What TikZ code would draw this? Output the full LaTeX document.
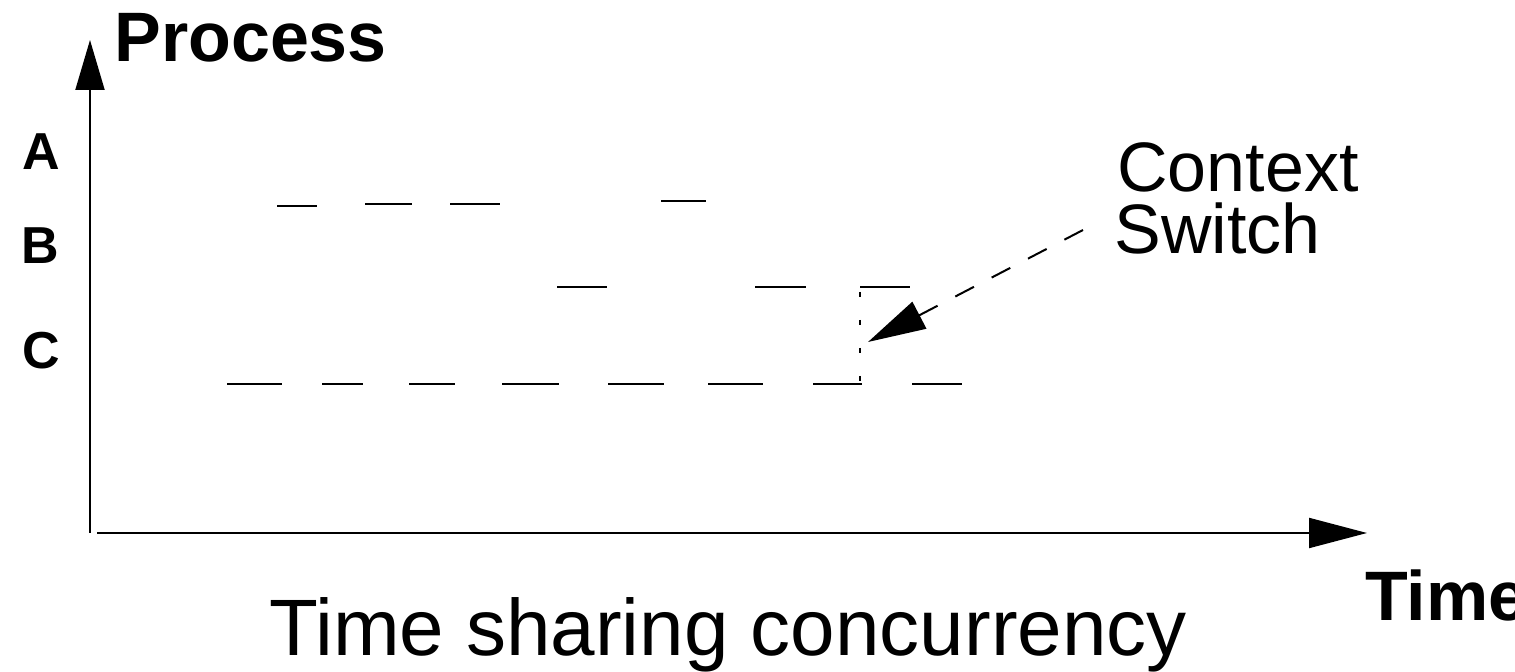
\documentclass[tikz,border=0pt]{standalone}
\usepackage{fontspec}
\setmainfont{Liberation Sans}
\usetikzlibrary{arrows.meta}

\tikzset{
    axis/.style={line width=1pt, -{Triangle[length=29pt,width=15pt]}},
    slice/.style={line width=1pt},
    lbl/.style={inner sep=0pt, font=\bfseries\fontsize{35pt}{40pt}\selectfont},
    proc/.style={inner sep=0pt, anchor=base, font=\bfseries\fontsize{26pt}{30pt}\selectfont},
    txt/.style={inner sep=0pt, anchor=base west, font=\fontsize{35pt}{40pt}\selectfont}
}

\begin{document}
\begin{tikzpicture}[x=0.5pt,y=-0.5pt]
                \useasboundingbox (0,0) rectangle (1515,672);

                % axes
                \coordinate (origin) at (90,533);
                \coordinate (ytip) at (90,40);
                \coordinate (xstart) at (97,533);
                \coordinate (xtip) at (1367,533);
                \draw[axis, -{Triangle[length=25pt,width=14.5pt]}] (origin) -- (ytip);
                \draw[axis] (xstart) -- (xtip);

                \node[lbl, anchor=base west] (process) at (114,62) {Process};
                \node[lbl, anchor=base west] (timelbl) at (1365,621) {Time};
                \node[txt, font=\fontsize{40pt}{44pt}\selectfont] (title) at (269,656) {Time sharing concurrency};

                \node[proc] (procA) at (41,170) {A};
                \node[proc] (procB) at (40,264) {B};
                \node[proc] (procC) at (41,369) {C};

                % time slices
                \draw[slice] (277,206) -- (317,206) (365,204) -- (412,204) (450,204) -- (500,204) (661,201) -- (706,201);
                \draw[slice] (557,287) -- (607,287) (755,287) -- (806,287) (860,287) -- (910,287);
                \draw[slice] (227,384) -- (282,384) (322,384) -- (363,384) (409,384) -- (455,384)
                    (502,384) -- (559,384) (608,384) -- (664,384) (708,384) -- (763,384)
                    (813,384) -- (862,384) (912,384) -- (962,384);
                \draw[slice, dash pattern=on 2.5pt off 11.5pt] (860,292) -- (860,382);

                % context switch
                \node[txt] (context) at (1117,192) {Context};
                \node[txt] (switch) at (1114,254) {Switch};
                \coordinate (swstart) at (1083,230);
                \coordinate (swend) at (868,342);
                \draw[axis, dash pattern=on 10.5pt off 10pt] (swstart) -- (swend);
            \end{tikzpicture}
\end{document}
